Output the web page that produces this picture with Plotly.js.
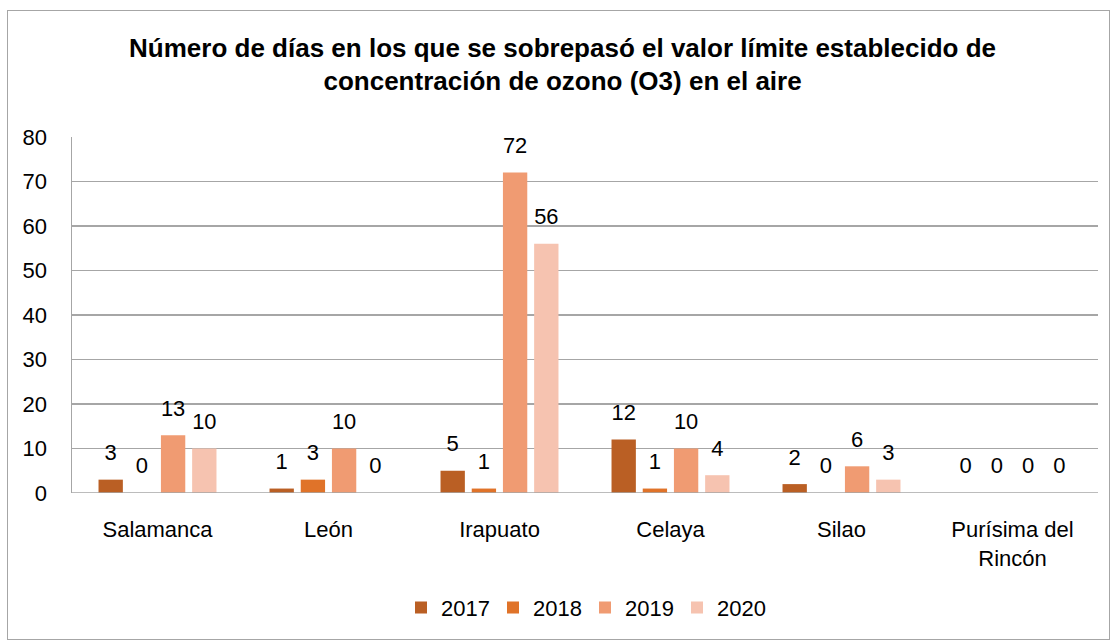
<!DOCTYPE html>
<html><head><meta charset="utf-8">
<script src="https://cdn.plot.ly/plotly-3.0.1.min.js"></script>
<style>
html,body{margin:0;padding:0;background:#fff;}
#frame{position:absolute;left:7px;top:10px;width:1103px;height:630px;border:1.5px solid #a6a6a6;box-sizing:border-box;}
#chart{position:absolute;left:0;top:0;width:1114px;height:644px;}
</style></head>
<body>
<div id="frame"></div>
<div id="chart"></div>
<script>
const categories = ["Salamanca", "León", "Irapuato", "Celaya", "Silao", "Purísima del<br>Rincón"];
const years = ["2017", "2018", "2019", "2020"];
const v2017 = [3, 1, 5, 12, 2, 0];
const v2018 = [0, 3, 1, 1, 0, 0];
const v2019 = [13, 10, 72, 10, 6, 0];
const v2020 = [10, 0, 56, 4, 3, 0];
const colors = ["#BA5F24", "#E07329", "#F09B72", "#F6C3B0"];
const series = [v2017, v2018, v2019, v2020];
const FONT = "'Liberation Sans', Arial, sans-serif";
const LABEL_LIFT = 2.6; // spacing between bar top and its label, in axis units

const traces = [];
series.forEach((vals, i) => {
  traces.push({
    type: 'bar', name: years[i], x: categories, y: vals,
    offsetgroup: years[i], marker: {color: colors[i]}, hoverinfo: 'skip'
  });
});
series.forEach((vals, i) => {
  traces.push({
    type: 'bar', name: years[i] + ' labels', x: categories,
    y: vals.map(() => LABEL_LIFT), base: vals,
    offsetgroup: years[i], showlegend: false,
    marker: {color: 'rgba(0,0,0,0)'},
    text: vals.map(String), textposition: 'outside', cliponaxis: false,
    textfont: {family: FONT, size: 22, color: '#000'}, hoverinfo: 'skip'
  });
});

const layout = {
  width: 1114, height: 644,
  paper_bgcolor: 'rgba(0,0,0,0)', plot_bgcolor: 'rgba(0,0,0,0)',
  margin: {l: 72, r: 16, t: 137, b: 151},
  font: {family: FONT, size: 22, color: '#000'},
  title: {text: '<b>Número de días en los que se sobrepasó el valor límite establecido de<br>concentración de ozono (O3) en el aire</b>',
          font: {family: FONT, size: 26, color: '#000'}, x: 0.505, xanchor: 'center', y: 0.912, yanchor: 'top'},
  barmode: 'group', bargap: 0.27, bargroupgap: 0.22,
  xaxis: {showgrid: false, showline: false, zeroline: false, ticks: '', ticklabelstandoff: 21,
          tickfont: {family: FONT, size: 22, color: '#000'}},
  yaxis: {range: [0, 80], dtick: 10, showgrid: true, gridcolor: '#a6a6a6', gridwidth: 1.5,
          showline: true, linecolor: '#a6a6a6', linewidth: 1.5, zeroline: false, ticks: '',
          ticklabelstandoff: 19, tickfont: {family: FONT, size: 22, color: '#000'}},
  shapes: [{type: 'line', xref: 'paper', yref: 'y', x0: 0, x1: 1, y0: 0, y1: 0, line: {color: '#a6a6a6', width: 1.5}}],
  legend: {orientation: 'h', x: 0.5, xanchor: 'center', y: -0.322, yanchor: 'middle',
           font: {family: FONT, size: 22, color: '#000'}, itemwidth: 30, traceorder: 'normal',
           entrywidth: 47, entrywidthmode: 'pixels'},
  showlegend: true
};
Plotly.newPlot('chart', traces, layout, {displayModeBar: false, staticPlot: true});
</script>
</body></html>
